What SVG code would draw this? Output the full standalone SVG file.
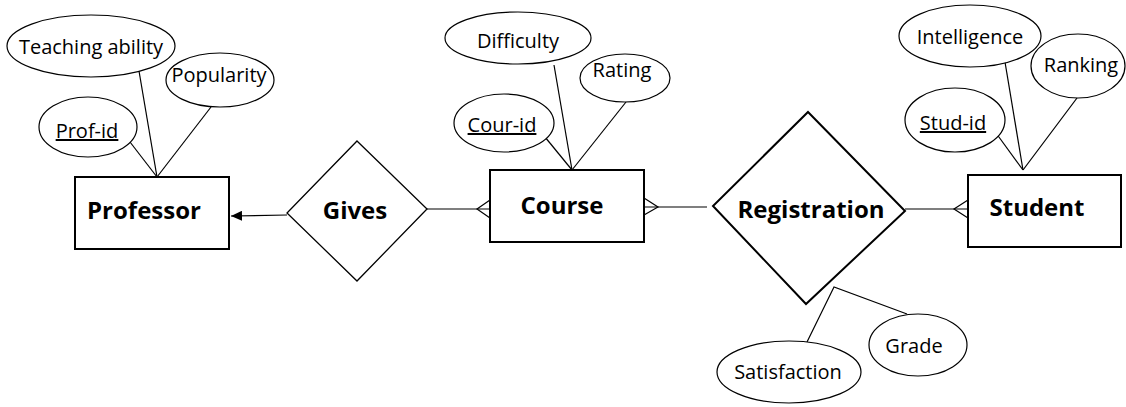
<svg xmlns="http://www.w3.org/2000/svg" width="1126" height="407" viewBox="0 0 1126 407">
<style>
.attr{fill:#fff;stroke:#000;stroke-width:1.2}
.ent{fill:#fff;stroke:#000;stroke-width:2}
.rel{fill:#fff;stroke:#000;stroke-width:1.3}
.t{font-family:"Open Sans","Noto Sans",sans-serif;font-size:20px;fill:#000;text-anchor:middle}
.b{font-family:"Open Sans","Noto Sans",sans-serif;font-size:24px;font-weight:bold;fill:#000;text-anchor:middle}
.u{text-decoration:underline}
.ln{stroke:#000;stroke-width:1.2;fill:none}
</style>
<defs>
<marker id="arr" markerWidth="12" markerHeight="10" refX="11" refY="5" orient="auto" markerUnits="userSpaceOnUse">
<path d="M0,0 L11,5 L0,10 Z" fill="#000"/>
</marker>
</defs>
<g id="connectors">
<line class="ln" x1="139" y1="71" x2="157" y2="177"/>
<line class="ln" x1="211" y1="107" x2="157" y2="177"/>
<line class="ln" x1="130" y1="142" x2="157" y2="177"/>
<line class="ln" x1="287" y1="215" x2="231" y2="216" marker-end="url(#arr)"/>
<line class="ln" x1="554" y1="65" x2="572" y2="170"/>
<line class="ln" x1="626" y1="102" x2="572" y2="170"/>
<line class="ln" x1="545" y1="137" x2="572" y2="170"/>
<line class="ln" x1="427" y1="209" x2="490" y2="209"/>
<path class="ln" d="M490,200 L477,209 L490,218"/>
<line class="ln" x1="644" y1="207" x2="707" y2="207"/>
<path class="ln" d="M644,198 L658,207 L644,215"/>
<line class="ln" x1="905" y1="209" x2="968" y2="209"/>
<path class="ln" d="M968,200 L954,209 L968,218"/>
<line class="ln" x1="1005" y1="62" x2="1023" y2="170"/>
<line class="ln" x1="1077" y1="98" x2="1023" y2="170"/>
<line class="ln" x1="996" y1="133" x2="1023" y2="170"/>
<path class="ln" d="M807,342 L834,287 L907,314"/>
</g>
<g id="teaching-ability"><ellipse class="attr" cx="91" cy="46" rx="84" ry="31"/><text class="t" x="91" y="54">Teaching ability</text></g>
<g id="popularity"><ellipse class="attr" cx="220" cy="80" rx="54" ry="27"/><text class="t" x="219" y="82">Popularity</text></g>
<g id="prof-id"><ellipse class="attr" cx="88" cy="127" rx="49" ry="30"/><text class="t u" x="87" y="138">Prof-id</text></g>
<g id="professor"><rect class="ent" x="75" y="177" width="154" height="72"/><text class="b" x="144" y="219">Professor</text></g>
<g id="gives"><polygon class="rel" points="357,141 427,209 357,281 287,213"/><text class="b" x="355" y="219">Gives</text></g>
<g id="difficulty"><ellipse class="attr" cx="518" cy="38" rx="73" ry="26"/><text class="t" x="518" y="48">Difficulty</text></g>
<g id="rating"><ellipse class="attr" cx="625" cy="78" rx="45" ry="24"/><text class="t" x="622" y="77">Rating</text></g>
<g id="cour-id"><ellipse class="attr" cx="504" cy="123" rx="50" ry="29"/><text class="t u" x="502" y="132">Cour-id</text></g>
<g id="course"><rect class="ent" x="490" y="170" width="154" height="72"/><text class="b" x="562" y="214">Course</text></g>
<g id="registration"><polygon class="ent" points="808,112 905,211 806,304 713,206"/><text class="b" x="811" y="218">Registration</text></g>
<g id="grade"><ellipse class="attr" cx="918" cy="345" rx="49" ry="31"/><text class="t" x="914" y="353">Grade</text></g>
<g id="satisfaction"><ellipse class="attr" cx="789" cy="372" rx="72" ry="31"/><text class="t" x="788" y="379">Satisfaction</text></g>
<g id="intelligence"><ellipse class="attr" cx="970" cy="36" rx="71" ry="31"/><text class="t" x="970" y="44">Intelligence</text></g>
<g id="ranking"><ellipse class="attr" cx="1078" cy="66" rx="47" ry="32"/><text class="t" x="1081" y="72">Ranking</text></g>
<g id="stud-id"><ellipse class="attr" cx="955" cy="120" rx="50" ry="32"/><text class="t u" x="953" y="130">Stud-id</text></g>
<g id="student"><rect class="ent" x="968" y="175" width="153" height="72"/><text class="b" x="1037" y="216">Student</text></g>
</svg>
